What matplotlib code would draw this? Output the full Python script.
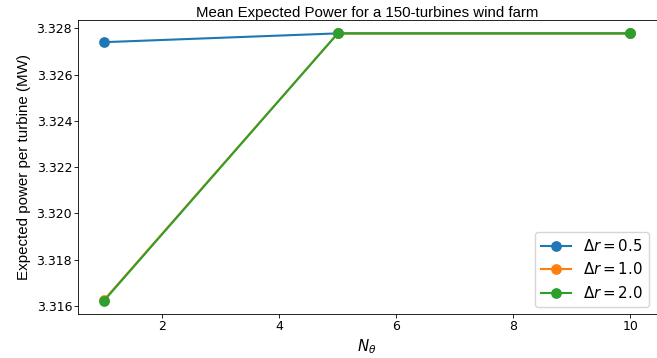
import matplotlib
matplotlib.use("Agg")
import matplotlib.pyplot as plt

plt.rcParams['font.family'] = ['DejaVu Sans']
plt.rcParams['mathtext.fontset'] = 'dejavusans'

# data
n_theta = [1, 5, 10]
power_dr05 = [3.32740, 3.32778, 3.32778]
power_dr10 = [3.31625, 3.32778, 3.32778]
power_dr20 = [3.31622, 3.32778, 3.32778]
labels = [r'$\Delta r = 0.5$', r'$\Delta r = 1.0$', r'$\Delta r = 2.0$']

fig = plt.figure(figsize=(6.57, 3.58), dpi=100)
ax = fig.add_subplot(111)
fig.subplots_adjust(left=77.5 / 657, right=656.5 / 657, top=1 - 20 / 358, bottom=1 - 314.3 / 358)

for ys, lab in zip([power_dr05, power_dr10, power_dr20], labels):
    ax.plot(n_theta, ys, marker='o', lw=1.5, markersize=6.7, label=lab)

ax.set_title('Mean Expected Power for a 150-turbines wind farm', fontsize=10.8,
             pad=2.5, family=['Liberation Sans', 'DejaVu Sans'])
ax.set_xlabel(r'$N_\theta$', fontsize=10.8, labelpad=3)
ax.set_ylabel('Expected power per turbine (MW)', fontsize=10.9,
              family=['Liberation Sans', 'DejaVu Sans'])
ax.tick_params(labelsize=9, length=2.7, width=0.6, pad=1.2)
for sp in ax.spines.values():
    sp.set_linewidth(0.6)
ax.set_xticks([2, 4, 6, 8, 10])
ax.legend(loc='lower right', fontsize=10.8, borderaxespad=0.5)

fig.savefig('out.png', dpi=100)
